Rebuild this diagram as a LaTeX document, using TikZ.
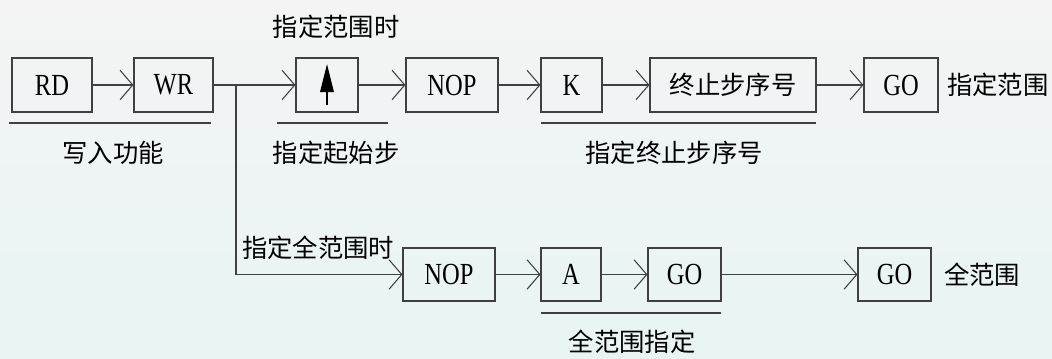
\documentclass[tikz,border=0pt]{standalone}
\usepackage{fontspec}
\setmainfont{Liberation Serif}
\newfontfamily\lat[FakeStretch=0.8]{Liberation Serif}
\newfontfamily\cjk{Noto Sans CJK SC}
\usetikzlibrary{arrows.meta}
\definecolor{bgtop}{HTML}{F4F4F4}
\definecolor{bgbot}{HTML}{E8F4F4}
\definecolor{ln}{HTML}{404040}
\tikzset{
  box/.style={draw=ln, line width=0.8pt, inner sep=0pt, minimum height=54*0.75pt, font=\lat\fontsize{23}{26}\selectfont},
  conn/.style={draw=ln, line width=0.8pt, -{Straight Barb[length=9.5pt, width=22pt, line width=0.8pt]}},
  uline/.style={draw=ln, line width=0.8pt},
  lbl/.style={font=\cjk\fontsize{19}{22}\selectfont, inner sep=0pt}
}
\begin{document}
\begin{tikzpicture}[x=0.75pt, y=-0.75pt]
\useasboundingbox (0,0) rectangle (1052,358);
\shade[top color=bgtop, bottom color=bgbot] (0,0) rectangle (1052,358);
% top row
\node[box, minimum width=80*0.75pt] (rd) at (52,85) {RD};
\node[box, minimum width=79*0.75pt] (wr) at (173.5,85) {WR};
\node[box, minimum width=62*0.75pt] (up) at (327,85) {};
\node[box, minimum width=92*0.75pt] (nop1) at (452,85) {NOP};
\node[box, minimum width=61*0.75pt] (k) at (571.5,85) {K};
\node[box, minimum width=166*0.75pt, font=\cjk\fontsize{19}{22}\selectfont] (end) at (733,85) {终止步序号};
\node[box, minimum width=74*0.75pt] (go1) at (901,85) {GO};
% up arrow symbol
\coordinate (upb) at (327,105);
\coordinate (upt) at (327,64);
\draw[line width=1.6pt, -{Triangle[length=21pt, width=10pt]}] (upb) -- (upt);
% bottom row
\node[box, minimum width=92*0.75pt, minimum height=53*0.75pt] (nop2) at (449,274.5) {NOP};
\node[box, minimum width=60*0.75pt, minimum height=53*0.75pt] (a) at (571,274.5) {A};
\node[box, minimum width=73*0.75pt, minimum height=53*0.75pt] (go2) at (684.5,274.5) {GO};
\node[box, minimum width=73*0.75pt, minimum height=53*0.75pt] (go3) at (894.5,274.5) {GO};
% connectors
\draw[conn] (rd) -- (wr);
\draw[conn] (wr) -- (up);
\draw[conn] (up) -- (nop1);
\draw[conn] (nop1) -- (k);
\draw[conn] (k) -- (end);
\draw[conn] (end) -- (go1);
\coordinate (br) at (236,85);
\draw[conn] (br) |- (nop2);
\draw[conn] (nop2) -- (a);
\draw[conn] (a) -- (go2);
\draw[conn] (go2) -- (go3);
% underlines
\coordinate (u1a) at (9,123); \coordinate (u1b) at (211,123);
\coordinate (u2a) at (277,123); \coordinate (u2b) at (388,123);
\coordinate (u3a) at (541,123); \coordinate (u3b) at (816,123);
\coordinate (u4a) at (541,313); \coordinate (u4b) at (721,313);
\draw[uline] (u1a) -- (u1b);
\draw[uline] (u2a) -- (u2b);
\draw[uline] (u3a) -- (u3b);
\draw[uline] (u4a) -- (u4b);
% labels
\node[lbl] (t1) at (336,27) {指定范围时};
\node[lbl] (t2) at (113,153) {写入功能};
\node[lbl] (t3) at (336,153) {指定起始步};
\node[lbl] (t4) at (674,153) {指定终止步序号};
\node[lbl, anchor=west] (t5) at (947,85) {指定范围};
\node[lbl] (t6) at (318,248) {指定全范围时};
\node[lbl, anchor=west] (t7) at (944,275) {全范围};
\node[lbl] (t8) at (632,342) {全范围指定};
\end{tikzpicture}
\end{document}
